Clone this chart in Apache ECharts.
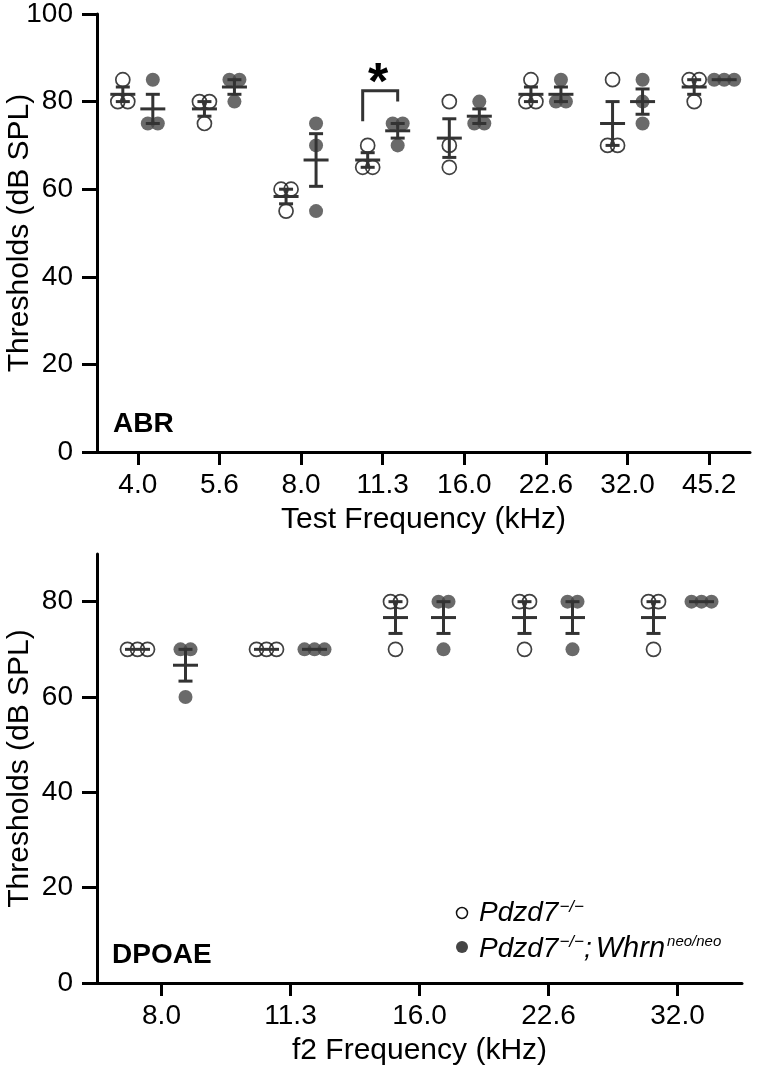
<!DOCTYPE html>
<html><head><meta charset="utf-8">
<script src="https://cdn.jsdelivr.net/npm/echarts@6/dist/echarts.min.js"></script>
<style>html,body{margin:0;padding:0;background:#fff}#c{width:760px;height:1072px}</style>
</head><body><div id="c"></div>
<script>
// ---- data ----
const abrCategories = ['4.0','5.6','8.0','11.3','16.0','22.6','32.0','45.2'];
const abrOpen   = [[85,80,80],[80,80,75],[60,60,55],[70,65,65],[80,70,65],[85,80,80],[85,70,70],[85,85,80]];
const abrFilled = [[85,75,75],[85,85,80],[75,70,55],[75,75,70],[80,75,75],[85,80,80],[85,80,75],[85,85,85]];
const dpoaeCategories = ['8.0','11.3','16.0','22.6','32.0'];
const dpoaeOpen   = [[70,70,70],[70,70,70],[80,80,70],[80,80,70],[80,80,70]];
const dpoaeFilled = [[70,70,60],[70,70,70],[80,80,70],[80,80,70],[80,80,80]];
const abrYTicks = [0,20,40,60,80,100];
const dpoaeYTicks = [0,20,40,60,80];
const sigCategory = 3;              // 11.3 kHz
const sigValues = [75.5, 82.5, 80]; // left leg end, top, right leg end

// ---- helpers ----
const FONT = "'Liberation Sans', Arial, Helvetica, sans-serif";
const DARK = '#333333';
const FILL = '#454545';
const JIT = 10;

function mean(a){ return a.reduce((s,v)=>s+v,0)/a.length; }
function sem(a){ const m=mean(a); const v=a.reduce((s,x)=>s+(x-m)*(x-m),0)/(a.length-1); return Math.sqrt(v)/Math.sqrt(a.length); }

function pointsData(groups, dx){
  const out=[];
  groups.forEach((vals, ci)=>{
    const counts={};
    vals.forEach(v=>{counts[v]=(counts[v]||0)+1;});
    const seen={};
    vals.forEach(v=>{
      const k=counts[v]; const j=seen[v]||0; seen[v]=j+1;
      const off=(j-(k-1)/2)*JIT;
      out.push({value:[ci, v], symbolOffset:[dx+off, 0]});
    });
  });
  return out;
}
function statsData(groups){ return groups.map((vals,ci)=>[ci, mean(vals), sem(vals)]); }

function errSeries(groups, dx, xi, yi){
  return {
    type:'custom', xAxisIndex:xi, yAxisIndex:yi, z:5, clip:false,
    data: statsData(groups),
    renderItem:(params, api)=>{
      const c=api.value(0), m=api.value(1), s=api.value(2);
      const pm=api.coord([c,m]), pt=api.coord([c,m+s]), pb=api.coord([c,m-s]);
      const x=pm[0]+dx;
      const st={stroke:DARK, lineWidth:3};
      const ch=[{type:'line', shape:{x1:x-12.5,y1:pm[1],x2:x+12.5,y2:pm[1]}, style:st}];
      if (s>0){
        ch.push({type:'line', shape:{x1:x,y1:pt[1],x2:x,y2:pb[1]}, style:st});
        ch.push({type:'line', shape:{x1:x-7,y1:pt[1],x2:x+7,y2:pt[1]}, style:st});
        ch.push({type:'line', shape:{x1:x-7,y1:pb[1],x2:x+7,y2:pb[1]}, style:st});
      }
      return {type:'group', children:ch};
    }
  };
}
function openSeries(groups, dx, xi, yi){
  return {type:'scatter', xAxisIndex:xi, yAxisIndex:yi, z:3, symbol:'circle', symbolSize:14,
    itemStyle:{color:'rgba(255,255,255,0)', borderColor:'#111', borderWidth:1.7},
    emphasis:{disabled:true}, data:pointsData(groups, dx)};
}
function filledSeries(groups, dx, xi, yi){
  return {type:'scatter', xAxisIndex:xi, yAxisIndex:yi, z:3, symbol:'circle', symbolSize:14,
    itemStyle:{color:FILL}, emphasis:{disabled:true}, data:pointsData(groups, dx)};
}

const axisLine={show:true, lineStyle:{color:'#000', width:3}};
function xAxis(cats, gi, name){
  return {type:'category', gridIndex:gi, data:cats, boundaryGap:true,
    axisLine:axisLine, axisTick:{show:true, alignWithLabel:true, length:13, lineStyle:{color:'#000', width:3}},
    axisLabel:{color:'#000', fontSize:28, fontFamily:FONT, margin:19, interval:0},
    splitLine:{show:false},
    name:name, nameLocation:'middle', nameGap:53, nameMoveOverlap:false,
    nameTextStyle:{color:'#000', fontSize:30, fontFamily:FONT}};
}
function yAxis(max, ticks, gi){
  return {type:'value', gridIndex:gi, min:0, max:max,
    axisLine:axisLine,
    axisTick:{show:true, length:15, lineStyle:{color:'#000', width:3}, customValues:ticks},
    axisLabel:{color:'#000', fontSize:28, fontFamily:FONT, margin:24, customValues:ticks},
    splitLine:{show:false},
    name:'Thresholds (dB SPL)', nameLocation:'middle', nameGap:62, nameRotate:90, nameMoveOverlap:false,
    nameTextStyle:{color:'#000', fontSize:30, fontFamily:FONT}};
}

const chart=echarts.init(document.getElementById('c'), null, {renderer:'canvas'});
chart.setOption({
  backgroundColor:'#fff',
  animation:false,
  grid:[
    {left:97, top:14, width:653, height:438, outerBoundsMode:'none', containLabel:false},
    {left:97, top:554, width:645, height:429, outerBoundsMode:'none', containLabel:false}
  ],
  xAxis:[xAxis(abrCategories,0,'Test Frequency (kHz)'), xAxis(dpoaeCategories,1,'f2 Frequency (kHz)')],
  yAxis:[yAxis(100, abrYTicks, 0), yAxis(90, dpoaeYTicks, 1)],
  series:[
    openSeries(abrOpen,-15,0,0), filledSeries(abrFilled,15,0,0),
    errSeries(abrOpen,-15,0,0), errSeries(abrFilled,15,0,0),
    openSeries(dpoaeOpen,-24,1,1), filledSeries(dpoaeFilled,24,1,1),
    errSeries(dpoaeOpen,-24,1,1), errSeries(dpoaeFilled,24,1,1),
    {type:'custom', xAxisIndex:0, yAxisIndex:0, z:6, clip:false, data:[[sigCategory, sigValues[0], sigValues[1], sigValues[2]]],
      renderItem:(params, api)=>{
        const c=api.value(0);
        const l=api.coord([c,api.value(1)]), t=api.coord([c,api.value(2)]), r=api.coord([c,api.value(3)]);
        const xl=l[0]-20, xr=l[0]+15;
        return {type:'group', children:[
          {type:'polyline', shape:{points:[[xl,l[1]],[xl,t[1]],[xr,t[1]],[xr,r[1]]]}, style:{stroke:DARK, lineWidth:3, fill:null}},
          {type:'text', x:(xl+xr)/2 - 2, y:t[1]+20, style:{text:'*', font:'bold 52px '+FONT, fill:'#000', align:'center', verticalAlign:'bottom', textAlign:'center', textVerticalAlign:'bottom'}}
        ]};
      }}
  ],
  graphic:[
    {type:'text', left:113, top:410, style:{text:'ABR', font:'bold 28px '+FONT, fill:'#000'}},
    {type:'text', left:112, top:941, style:{text:'DPOAE', font:'bold 28px '+FONT, fill:'#000'}},
    {type:'circle', shape:{cx:462, cy:913, r:5.5}, style:{fill:'#fff', stroke:'#111', lineWidth:1.5}},
    {type:'circle', shape:{cx:462, cy:947, r:6}, style:{fill:FILL}},
    {type:'text', left:479, top:899, style:{text:'{i|Pdzd7}{s|−/−}', rich:{
      i:{fontSize:28, fontStyle:'italic', fontFamily:FONT, fill:'#000', color:'#000', verticalAlign:'bottom'},
      s:{fontSize:17, fontStyle:'italic', fontFamily:FONT, fill:'#000', color:'#000', verticalAlign:'top', padding:[0,0,0,1]}}}},
    {type:'text', left:479, top:934, style:{text:'{i|Pdzd7}{s|−/−}{i|;}{w|Whrn}{n|neo/neo}', rich:{
      i:{fontSize:28, fontStyle:'italic', fontFamily:FONT, fill:'#000', color:'#000', verticalAlign:'bottom'},
      w:{fontSize:29, fontStyle:'italic', fontFamily:FONT, fill:'#000', color:'#000', verticalAlign:'bottom', padding:[0,0,0,4]},
      s:{fontSize:17, fontStyle:'italic', fontFamily:FONT, fill:'#000', color:'#000', verticalAlign:'top', padding:[0,0,0,1]},
      n:{fontSize:15, fontStyle:'italic', fontFamily:FONT, fill:'#000', color:'#000', verticalAlign:'top', padding:[0,0,0,2]}}}}
  ]
});
</script></body></html>
